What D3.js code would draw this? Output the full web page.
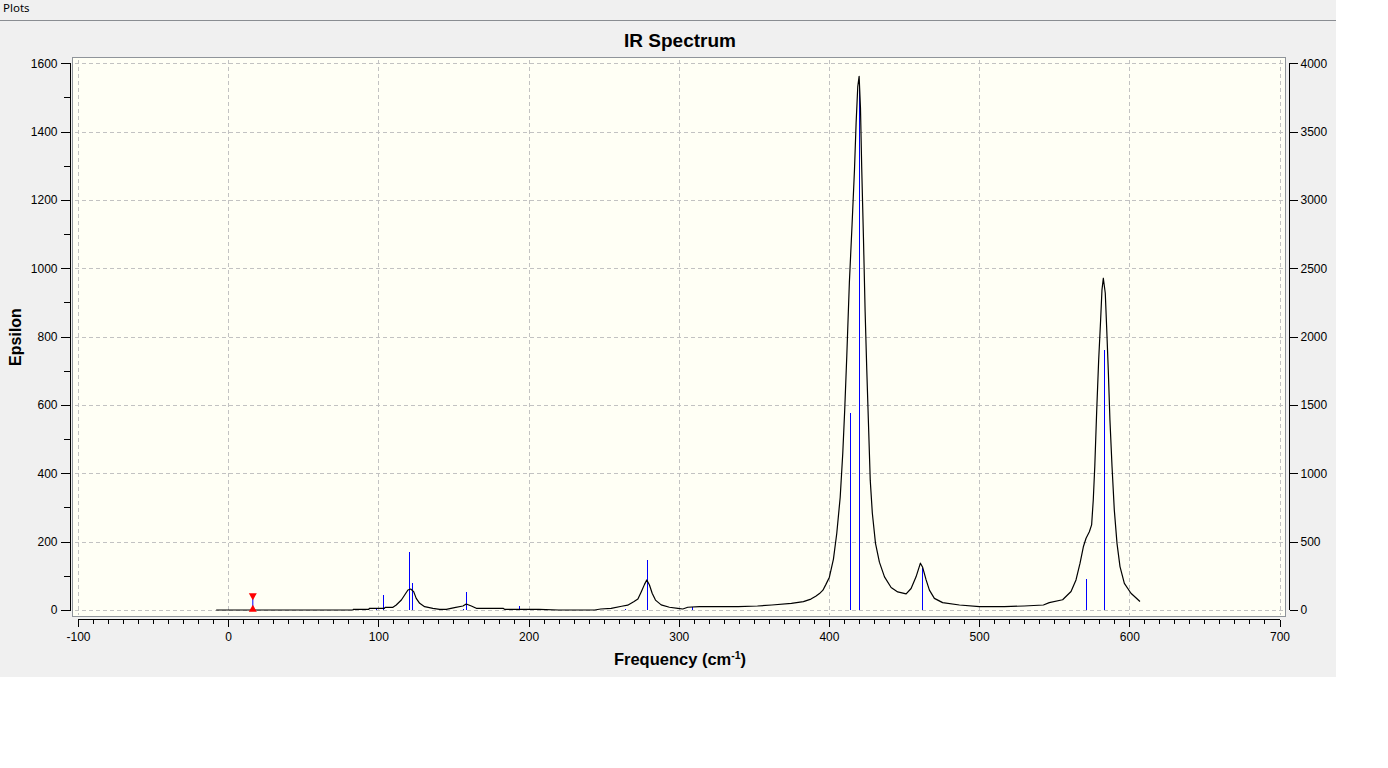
<!DOCTYPE html>
<html><head><meta charset="utf-8">
<script src="https://cdn.jsdelivr.net/npm/d3@7"></script>
<style>
html,body{margin:0;padding:0;background:#fff;}
svg{display:block;}
text{font-family:"Liberation Sans",Arial,sans-serif;}
</style></head>
<body>
<svg id="chart" width="1388" height="768"></svg>
<script>
// ---- data ----
const titleText = "IR Spectrum";
const xTicks = [-100, 0, 100, 200, 300, 400, 500, 600, 700];
const yLeftTicks = [0, 200, 400, 600, 800, 1000, 1200, 1400, 1600];
const yRightTicks = [0, 500, 1000, 1500, 2000, 2500, 3000, 3500, 4000];
// broadened spectrum (frequency cm-1, epsilon)
const spectrumFreq = [-8,83,83.5,93.7,94,104,104.5,109.7,111.9,115.3,117.5,119.7,121.5,123.5,125.2,127.5,130.8,136.3,140.8,145.2,150.7,156.3,158.5,161.9,165.2,183,184,207,220,244,248,255,262,266,270,272.8,275,277.2,278.7,280.5,282.3,284.5,288.3,293.8,299.4,302.7,306,313.8,320,339.6,352.4,362,375,383,388,391.2,393.7,396,398,400.3,403,405.2,407.5,409.2,410.5,411.9,413.6,415.4,417,418.1,419.2,420.1,421,421.8,423,424.1,425.2,426.5,427.5,428.9,431,433.6,437,441.4,445.8,451.4,454.7,458,460.9,462.4,464.7,466.9,470.2,475.7,486.9,500.2,516.8,530,542.8,546.7,555.6,561.2,564.5,567.2,569.4,571.2,573.4,574.9,576,577,578.3,579.6,580.9,581.8,582.7,584,584.9,586,587.1,588.5,590,591.8,593.8,596.7,601.1,607.1];
const spectrumEps  = [0,0,2,2,4.9,4.9,7.8,7.8,14.6,29.3,43.9,58.5,61.5,53.7,34.1,19.5,9.8,4.9,2,2,6.8,11.7,17.6,11.7,4.9,4.9,2,2,0,0,2.9,4.9,11,14,24,32,53,75,88,73,49,29,15,8,5,3,8,10,9.8,9.8,11.7,14.6,19.5,24.4,32,40,48,58,75,96,149,224,330,458,585,745,958,1128,1288,1426,1532,1562,1469,1298,1086,873,702,520,380,283,195,140,97,66,53,47,63,97,137,125,88,58,34,21.5,14.6,9.8,9.8,11.7,14.6,21.5,30,54,88,137,185,210,229,249,322,419,585,732,849,937,971,927,829,702,556,419,293,195,127,78,49,25];
// stick spectrum (frequency cm-1, IR intensity on right axis)
const stickFreq      = [98.4, 103, 120.3, 122.3, 156.3, 158.3, 193.5, 264.4, 278.7, 308.7, 413.9, 419.9, 462.1, 570.9, 582.9];
const stickIntensity = [12, 110, 424, 198, 10, 132, 29, 8, 366, 24, 1442, 3850, 310, 227, 1902];
const markerFreq = 16.4;

// ---- layout ----
const svg = d3.select("#chart");
const plotL = 72.5, plotT = 57.5, plotR = 1285.5, plotB = 616.5;

const x = d3.scaleLinear().domain([-100, 700]).range([78, 1279.5]);
const y = d3.scaleLinear().domain([0, 1600]).range([610, 63.3]);
const y2 = d3.scaleLinear().domain([0, 4000]).range([610, 63.3]);
const plain = d => String(d);

// panel background
svg.append("rect").attr("x",0).attr("y",0).attr("width",1336).attr("height",677).attr("fill","#f0f0f0");
svg.append("text").attr("x",3).attr("y",12).attr("font-size",11.5)
  .style("font-family","'Noto Sans','DejaVu Sans',sans-serif").attr("fill","#000").text("Plots");
svg.append("line").attr("x1",0).attr("x2",1336).attr("y1",20.5).attr("y2",20.5)
  .attr("stroke","#8a8d92").attr("stroke-width",1);

// plot area
svg.append("rect").attr("x",plotL).attr("y",plotT).attr("width",plotR-plotL).attr("height",plotB-plotT)
  .attr("fill","#fffff5").attr("stroke","#8f949a").attr("stroke-width",1);

// grid
const grid = svg.append("g").attr("stroke","#c2c2c2").attr("stroke-dasharray","4,3").attr("stroke-width",1)
  .attr("shape-rendering","crispEdges");
xTicks.forEach(v => grid.append("line").attr("x1",Math.round(x(v))+0.5).attr("x2",Math.round(x(v))+0.5)
  .attr("y1",plotT+2).attr("y2",plotB-2));
yLeftTicks.forEach(v => grid.append("line").attr("y1",Math.round(y(v))+0.5).attr("y2",Math.round(y(v))+0.5)
  .attr("x1",plotL+2).attr("x2",plotR-2));

// sticks
svg.append("g").selectAll("line").data(stickFreq).join("line")
  .attr("x1",(d)=>Math.round(x(d))+0.5).attr("x2",(d)=>Math.round(x(d))+0.5)
  .attr("y1",y2(0)).attr("y2",(d,i)=>y2(stickIntensity[i]))
  .attr("stroke","#0000ff").attr("stroke-width",1.2).attr("shape-rendering","crispEdges");

// spectrum curve
const pts = spectrumFreq.map((f,i)=>[f, spectrumEps[i]]);
svg.append("path").datum(pts)
  .attr("d", d3.line().x(d=>x(d[0])).y(d=>y(d[1])))
  .attr("fill","none").attr("stroke","#000").attr("stroke-width",1.2).attr("stroke-linejoin","round");

// red marker
const mx = x(markerFreq);
svg.append("line").attr("x1",mx).attr("x2",mx).attr("y1",596).attr("y2",609)
  .attr("stroke","#0000ff").attr("stroke-width",1);
svg.append("path").attr("transform",`translate(${mx},595.5) rotate(180)`)
  .attr("d", d3.symbol().type(d3.symbolTriangle).size(28)()).attr("fill","#ff0000");
svg.append("path").attr("transform",`translate(${mx},609.5)`)
  .attr("d", d3.symbol().type(d3.symbolTriangle).size(28)()).attr("fill","#ff0000");

// axes
const fs = 12;
const leftAxis = d3.axisLeft(y).tickValues(yLeftTicks).tickFormat(plain).tickSize(10).tickPadding(3);
const gL = svg.append("g").attr("transform","translate(70.5,0)").call(leftAxis);
const gLm = svg.append("g").attr("transform","translate(70.5,0)")
  .call(d3.axisLeft(y).tickValues(d3.range(100,1600,200)).tickSize(7).tickFormat(""));
gLm.select(".domain").remove();
const rightAxis = d3.axisRight(y2).tickValues(yRightTicks).tickFormat(plain).tickSize(8).tickPadding(3);
const gR = svg.append("g").attr("transform","translate(1289.5,0)").call(rightAxis);
const bottomAxis = d3.axisBottom(x).tickValues(xTicks).tickFormat(plain).tickSize(7).tickPadding(6);
const gB = svg.append("g").attr("transform","translate(0,619.5)").call(bottomAxis);
const minorX = d3.range(-90, 700, 10).filter(v => v % 100 !== 0);
const gBm = svg.append("g").attr("transform","translate(0,619.5)")
  .call(d3.axisBottom(x).tickValues(minorX).tickSize(4).tickFormat(""));
gBm.select(".domain").remove();

[gL,gLm,gR,gB,gBm].forEach(g=>{
  g.selectAll("path.domain").attr("stroke","#000").attr("shape-rendering","crispEdges");
  g.selectAll(".tick line").attr("stroke","#000").attr("shape-rendering","crispEdges");
  g.selectAll("text").attr("font-size",fs).attr("fill","#000")
    .style("font-family","'Liberation Sans',Arial,sans-serif");
});
gL.select(".domain").attr("d",`M0,${y(1600)}V${y(0)}`);
gR.select(".domain").attr("d",`M0,${y2(4000)}V${y2(0)}`);
gB.select(".domain").attr("d",`M${x(-100)},0H${x(700)}`);

// titles
svg.append("text").attr("x",680).attr("y",47).attr("text-anchor","middle")
  .attr("font-size",19).attr("font-weight","bold").text(titleText);
svg.append("text").attr("transform","translate(21,337) rotate(-90)").attr("text-anchor","middle")
  .attr("font-size",16).attr("font-weight","bold").text("Epsilon");
const xl = svg.append("text").attr("x",680).attr("y",665).attr("text-anchor","middle")
  .attr("font-size",16.5).attr("font-weight","bold");
xl.append("tspan").text("Frequency (cm");
xl.append("tspan").attr("dy",-6).attr("font-size",10.5).text("-1");
xl.append("tspan").attr("dy",6).text(")");
</script>
</body></html>
